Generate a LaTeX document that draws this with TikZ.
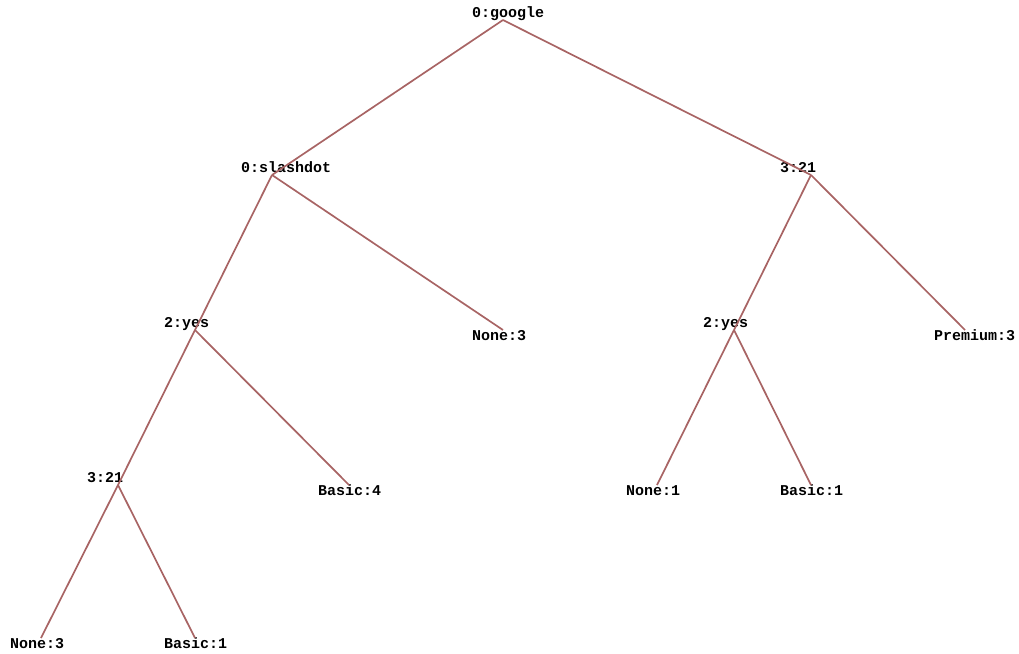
\documentclass[tikz,border=0pt]{standalone}
\usepackage{fontspec}
\usepackage{xcolor}
\usepackage{tikz}
\newfontfamily\treefont{Liberation Mono}
\definecolor{CA86464}{HTML}{A86464}
\definecolor{C000000}{HTML}{000000}

\begin{document}
\begin{tikzpicture}[inner sep=0pt,x=1pt,y=1pt,
  split/.style={anchor=base west,text=C000000,font=\treefont\bfseries\fontsize{15}{16}\selectfont},
  leaf/.style={anchor=base west,text=C000000,font=\treefont\bfseries\fontsize{15}{16}\selectfont},
  branch/.style={draw=CA86464,line width=1.7pt}]
\useasboundingbox (0pt,0pt) rectangle (1019pt,-653pt);
% branch points
\coordinate (p0) at (503pt,-20pt);
\coordinate (p1) at (272pt,-175pt);
\coordinate (p2) at (811pt,-175pt);
\coordinate (p3) at (195pt,-330pt);
\coordinate (p4) at (503pt,-330pt);
\coordinate (p5) at (734pt,-330pt);
\coordinate (p6) at (965pt,-330pt);
\coordinate (p7) at (118pt,-485pt);
\coordinate (p8) at (349pt,-485pt);
\coordinate (p9) at (657pt,-485pt);
\coordinate (p10) at (811pt,-485pt);
\coordinate (p11) at (41pt,-638pt);
\coordinate (p12) at (195pt,-638pt);

% tests
\node (n0) [split] at ([shift={(-31pt,3pt)}]p0) {0:google};
\node (n1) [split] at ([shift={(-31pt,3pt)}]p1) {0:slashdot};
\node (n2) [split] at ([shift={(-31pt,3pt)}]p2) {3:21};
\node (n3) [split] at ([shift={(-31pt,3pt)}]p3) {2:yes};
\node (n5) [split] at ([shift={(-31pt,3pt)}]p5) {2:yes};
\node (n7) [split] at ([shift={(-31pt,3pt)}]p7) {3:21};

% results
\node (n4) [leaf] at ([shift={(-31pt,-10.5pt)}]p4) {None:3};
\node (n6) [leaf] at ([shift={(-31pt,-10.5pt)}]p6) {Premium:3};
\node (n8) [leaf] at ([shift={(-31pt,-10.5pt)}]p8) {Basic:4};
\node (n9) [leaf] at ([shift={(-31pt,-10.5pt)}]p9) {None:1};
\node (n10) [leaf] at ([shift={(-31pt,-10.5pt)}]p10) {Basic:1};
\node (n11) [leaf] at ([shift={(-31pt,-10.5pt)}]p11) {None:3};
\node (n12) [leaf] at ([shift={(-31pt,-10.5pt)}]p12) {Basic:1};

\path [branch](p0)--(p1);
\path [branch](p0)--(p2);
\path [branch](p1)--(p3);
\path [branch](p1)--(p4);
\path [branch](p2)--(p5);
\path [branch](p2)--(p6);
\path [branch](p3)--(p7);
\path [branch](p3)--(p8);
\path [branch](p5)--(p9);
\path [branch](p5)--(p10);
\path [branch](p7)--(p11);
\path [branch](p7)--(p12);
\end{tikzpicture}
\end{document}
